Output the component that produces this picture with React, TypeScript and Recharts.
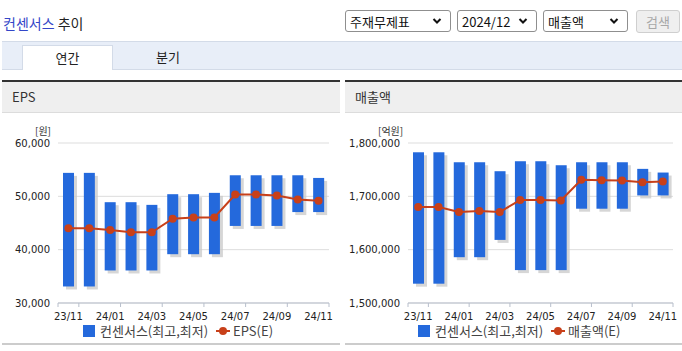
import { ComposedChart, Bar, Line, XAxis, YAxis, CartesianGrid } from 'recharts';

const categories = ['23/11', '23/12', '24/01', '24/02', '24/03', '24/04', '24/05', '24/06', '24/07', '24/08', '24/09', '24/10', '24/11'];

const epsHigh = [54400, 54400, 48900, 48900, 48400, 50400, 50400, 50650, 53950, 53950, 53950, 53950, 53450];
const epsLow = [33100, 33100, 36100, 36100, 36100, 39150, 39150, 39150, 44450, 44450, 44450, 47050, 47050];
const epsEst = [44000, 44000, 43700, 43260, 43260, 45800, 46050, 46050, 50350, 50350, 50170, 49420, 49170];
const epsTicks = [30000, 40000, 50000, 60000];

const salesHigh = [1782600, 1782600, 1763900, 1763900, 1747100, 1765800, 1765800, 1758300, 1763900, 1763900, 1763900, 1751500, 1744600];
const salesLow = [1536200, 1536200, 1585900, 1585900, 1618300, 1561700, 1561700, 1561700, 1676800, 1676800, 1676800, 1701700, 1701700];
const salesEst = [1679900, 1679900, 1670600, 1672400, 1670600, 1693000, 1693000, 1692300, 1730900, 1730300, 1729700, 1726600, 1727800];
const salesTicks = [1500000, 1600000, 1700000, 1800000];

const BLUE = '#2469dc';
const RED = '#c8401a';
const KR = '"Noto Sans CJK KR", sans-serif';
const NUM = 'Tahoma, "DejaVu Sans", "Liberation Sans", sans-serif';

const fmt = (v: number) => v.toLocaleString('en-US');

// 막대 + 회색 그림자
const ShadowBar = (props: any) => {
  const { x, y, width, height } = props;
  if (height == null || height <= 0) return null;
  return (
    <g>
      <rect x={x + 3} y={y + 3} width={width} height={height} fill="#c8c8c8" opacity={0.75} />
      <rect x={x} y={y} width={width} height={height} fill={BLUE} />
    </g>
  );
};

const makeTick = (band: number) => (props: any) => {
  const { x, y, payload, index } = props;
  return (
    <g>
      <line x1={x + band / 2} x2={x + band / 2} y1={y - 8} y2={y - 4} stroke="#b8bfcc" />
      {index === 0 && <line x1={x - band / 2} x2={x - band / 2} y1={y - 8} y2={y - 4} stroke="#b8bfcc" />}
      <text x={x} y={y + 9} textAnchor="middle" fontSize={10} fill="#222" fontFamily={NUM}>
        {payload.value}
      </text>
    </g>
  );
};

interface PanelProps {
  left: number;
  width: number;
  title: string;
  unit: string;
  unitX: number;
  yWidth: number;
  rightMargin: number;
  high: number[];
  low: number[];
  est: number[];
  ticks: number[];
  lineName: string;
  legendX: number;
}

function Panel(p: PanelProps) {
  const data = categories.map((c, i) => ({ name: c, range: [p.low[i], p.high[i]], est: p.est[i] }));
  const plotW = p.width - p.yWidth - p.rightMargin;
  const band = plotW / categories.length;
  return (
    <div style={{ position: 'absolute', left: p.left, top: 80, width: p.width, height: 266 }}>
      <div style={{ height: 2, background: '#333' }} />
      <div
        style={{
          height: 30,
          background: '#efefef',
          borderBottom: '1px solid #dcdcdc',
          fontFamily: KR,
          fontSize: 13,
          color: '#333',
          lineHeight: '30px',
          paddingLeft: 10,
        }}
      >
        {p.title}
      </div>
      <div
        style={{
          position: 'absolute',
          left: p.unitX,
          top: 46,
          fontFamily: KR,
          fontSize: 10,
          lineHeight: '10px',
          color: '#333',
        }}
      >
        {p.unit}
      </div>
      <ComposedChart
        width={p.width}
        height={210}
        data={data}
        margin={{ top: 30, right: p.rightMargin, left: 0, bottom: 0 }}
        style={{ position: 'absolute', left: 0, top: 33 }}
      >
        <CartesianGrid vertical={false} stroke="#dddddd" />
        <XAxis
          dataKey="name"
          interval={1}
          tickLine={false}
          axisLine={{ stroke: '#b8bfcc' }}
          tick={makeTick(band)}
          height={20}
        />
        <YAxis
          width={p.yWidth}
          domain={[p.ticks[0], p.ticks[p.ticks.length - 1]]}
          ticks={p.ticks}
          tickFormatter={fmt}
          axisLine={false}
          tickLine={false}
          tick={{ fontSize: 10, fill: '#222', fontFamily: NUM }}
        />
        <Bar dataKey="range" barSize={11} shape={ShadowBar} isAnimationActive={false} />
        <Line
          dataKey="est"
          type="linear"
          stroke={RED}
          strokeWidth={2}
          dot={{ r: 4, fill: RED, stroke: RED, strokeWidth: 0 }}
          isAnimationActive={false}
        />
      </ComposedChart>
      <div
        style={{
          position: 'absolute',
          left: p.legendX,
          top: 241,
          display: 'flex',
          alignItems: 'center',
          fontFamily: KR,
          fontSize: 13,
          color: '#444',
          whiteSpace: 'nowrap',
        }}
      >
        <span style={{ width: 12, height: 12, background: BLUE, display: 'inline-block', marginRight: 5 }} />
        <span>컨센서스(최고,최저)</span>
        <svg width={14} height={10} style={{ marginLeft: 8, marginRight: 3 }}>
          <line x1={0} x2={14} y1={5} y2={5} stroke={RED} strokeWidth={2} />
          <circle cx={7} cy={5} r={4} fill={RED} />
        </svg>
        <span>{p.lineName}</span>
      </div>
      <div style={{ position: 'absolute', left: 0, top: 263, width: p.width, height: 2, background: '#cccccc' }} />
    </div>
  );
}

const Chevron = () => (
  <svg width={10} height={8} viewBox="0 0 10 8">
    <path d="M1.5 2 L5 5.5 L8.5 2" fill="none" stroke="#111" strokeWidth={2} />
  </svg>
);

function SelectBox({ left, width, label }: { left: number; width: number; label: string }) {
  return (
    <div
      style={{
        position: 'absolute',
        left,
        top: 10,
        width: width - 2,
        height: 22,
        border: '1px solid #8f8f8f',
        borderRadius: 3,
        background: '#fff',
        fontFamily: KR,
        fontSize: 13,
        color: '#111',
        display: 'flex',
        alignItems: 'center',
        justifyContent: 'space-between',
        padding: '0 8px 0 4px',
        boxSizing: 'border-box',
      }}
    >
      <span>{label}</span>
      <Chevron />
    </div>
  );
}

export default function App() {
  return (
    <div style={{ position: 'fixed', left: 0, top: 0, width: 682, height: 351, background: '#fff', overflow: 'hidden' }}>
      <div style={{ position: 'absolute', left: 3, top: 13, fontFamily: KR, fontSize: 14, whiteSpace: 'nowrap' }}>
        <span style={{ color: '#3346c8' }}>컨센서스</span>
        <span style={{ color: '#222' }}> 추이</span>
      </div>
      <SelectBox left={345} width={108} label="주재무제표" />
      <SelectBox left={457} width={82} label="2024/12" />
      <SelectBox left={543} width={87} label="매출액" />
      <div
        style={{
          position: 'absolute',
          left: 636,
          top: 10,
          width: 44,
          height: 23,
          border: '1px solid #cfcfcf',
          borderRadius: 3,
          background: '#efefef',
          color: '#a8a8a8',
          fontFamily: KR,
          fontSize: 13,
          display: 'flex',
          alignItems: 'center',
          justifyContent: 'center',
          boxSizing: 'border-box',
        }}
      >
        검색
      </div>
      <div
        style={{
          position: 'absolute',
          left: 2,
          top: 41,
          width: 680,
          height: 29,
          background: '#e8eef8',
          borderTop: '1px solid #d3dbe8',
          borderBottom: '1px solid #d3dbe8',
          boxSizing: 'border-box',
        }}
      />
      <div
        style={{
          position: 'absolute',
          left: 22,
          top: 45,
          width: 91,
          height: 25,
          background: '#fff',
          borderTop: '1px solid #d3dbe8',
          borderLeft: '1px solid #d3dbe8',
          borderRight: '1px solid #d3dbe8',
          boxSizing: 'border-box',
          fontFamily: KR,
          fontSize: 13,
          color: '#222',
          textAlign: 'center',
          lineHeight: '23px',
        }}
      >
        연간
      </div>
      <div style={{ position: 'absolute', left: 156, top: 47, fontFamily: KR, fontSize: 13, color: '#222' }}>분기</div>
      <Panel
        left={2}
        width={338}
        title="EPS"
        unit="[원]"
        unitX={33}
        yWidth={56}
        rightMargin={11}
        high={epsHigh}
        low={epsLow}
        est={epsEst}
        ticks={epsTicks}
        lineName="EPS(E)"
        legendX={81}
      />
      <Panel
        left={345}
        width={337}
        title="매출액"
        unit="[억원]"
        unitX={33}
        yWidth={63}
        rightMargin={9}
        high={salesHigh}
        low={salesLow}
        est={salesEst}
        ticks={salesTicks}
        lineName="매출액(E)"
        legendX={73}
      />
    </div>
  );
}
